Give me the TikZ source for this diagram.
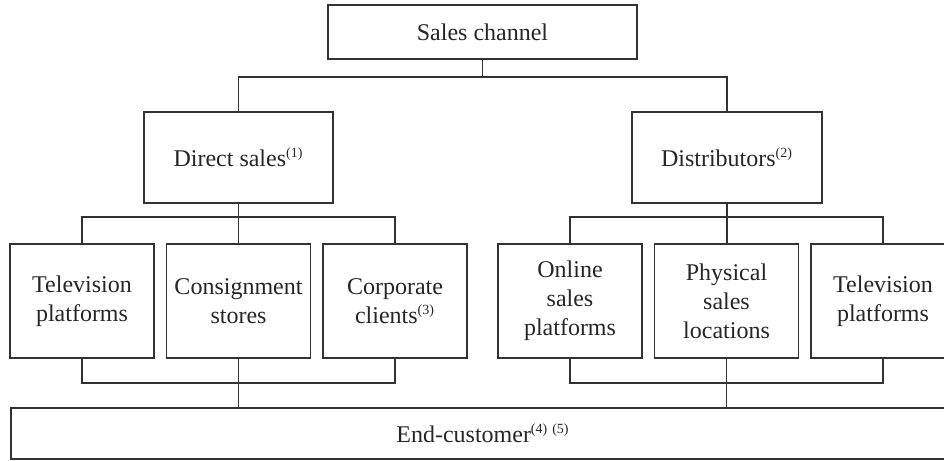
\documentclass[tikz,border=0pt]{standalone}
\usepackage{fontspec}
\setmainfont{Liberation Serif}
\newcommand{\note}[1]{\textsuperscript{\fontsize{7}{8}\selectfont(#1)}}

\begin{document}
\begin{tikzpicture}[x=0.5pt,y=0.5pt,
  box/.style={draw=black!80,line width=0.75pt,text=black!85,align=center,
    inner sep=0pt,font=\fontsize{12}{14.4}\selectfont},
  cell/.style={box,minimum width=72pt,minimum height=57pt},
  link/.style={draw=black!80,line width=0.75pt}]

\useasboundingbox (0,0) rectangle (944,461);
\clip (0,0) rectangle (944,461);

% Sales channel
\node[box,minimum width=154.5pt,minimum height=27pt] (channel) at (482.5,429) {Sales channel};

% Direct sales / Distributors
\node[box,minimum width=94.5pt,minimum height=45.5pt] (direct) at (238.5,303.5) {Direct sales\note{1}};
\node[box,minimum width=95pt,minimum height=45.5pt] (distrib) at (727,303.5) {Distributors\note{2}};

% Direct sales channels
\node[cell] (tv1) at (82,160) {Television\\platforms};
\node[cell] (consign) at (238.5,160) {Consignment\\stores};
\node[cell] (corp) at (395,160) {Corporate\\clients\note{3}};

% Distributor channels
\node[cell] (online) at (570,160) {Online\\sales\\platforms};
\node[cell] (physical) at (726.5,160) {Physical\\sales\\locations};
\node[cell] (tv2) at (883,160) {Television\\platforms};

% End-customer
\node[box,minimum width=472pt,minimum height=25.5pt] (endc) at (483,27.5)
{End-customer\note{4}\,\note{5}};

% bars
\coordinate (topbar) at (0,384);
\coordinate (midbar) at (0,244);
\coordinate (lowbar) at (0,78);

\draw[link] (channel.south) -- (channel.south |- topbar);
\draw[link] (direct.north) |- (distrib.north |- topbar) -- (distrib.north);

\draw[link] (direct.south) -- (consign.north);
\draw[link] (tv1.north) |- (corp.north |- midbar) -- (corp.north);
\draw[link] (distrib.south) -- (distrib.south |- physical.north);
\draw[link] (online.north) |- (tv2.north |- midbar) -- (tv2.north);

\draw[link] (tv1.south) |- (corp.south |- lowbar) -- (corp.south);
\draw[link] (consign.south) -- (consign.south |- endc.north);
\draw[link] (online.south) |- (tv2.south |- lowbar) -- (tv2.south);
\draw[link] (physical.south) -- (physical.south |- endc.north);

\end{tikzpicture}
\end{document}
